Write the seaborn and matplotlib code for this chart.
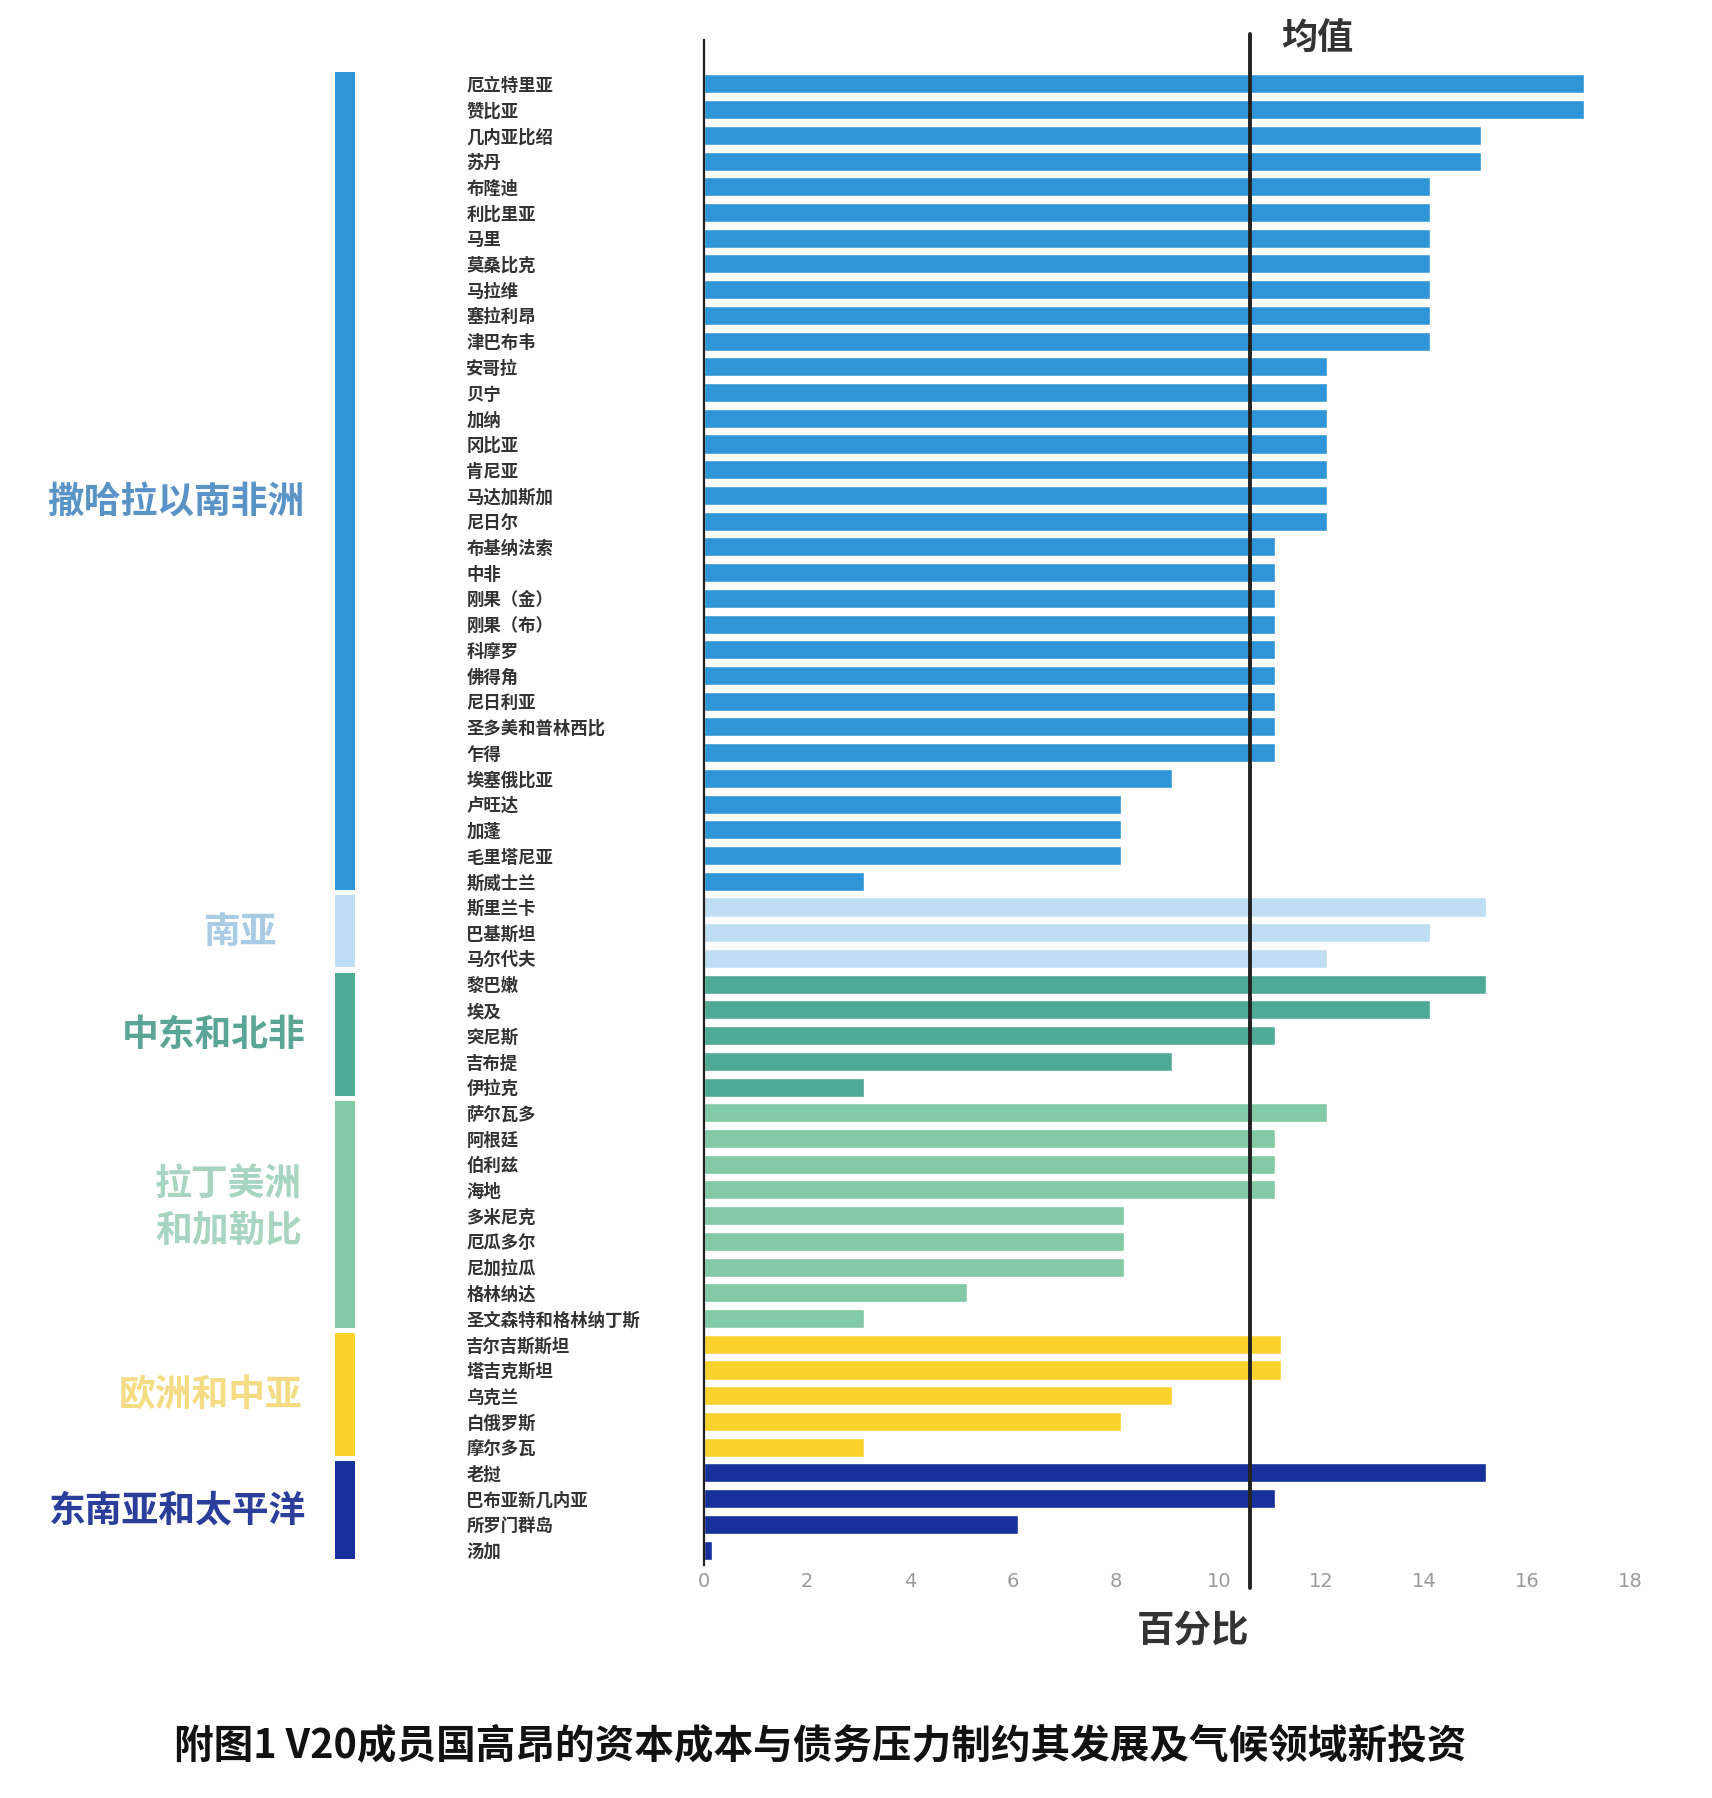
import matplotlib
matplotlib.use("Agg")
import matplotlib.pyplot as plt
import matplotlib.transforms as mtransforms
import pandas as pd
import seaborn as sns

sns.set_style("white")
plt.rcParams['font.family'] = ['Noto Sans CJK SC', 'DejaVu Sans']

# data
countries = [
    "厄立特里亚", "赞比亚", "几内亚比绍", "苏丹", "布隆迪", "利比里亚", "马里", "莫桑比克",
    "马拉维", "塞拉利昂", "津巴布韦", "安哥拉", "贝宁", "加纳", "冈比亚", "肯尼亚",
    "马达加斯加", "尼日尔", "布基纳法索", "中非", "刚果（金）", "刚果（布）", "科摩罗", "佛得角",
    "尼日利亚", "圣多美和普林西比", "乍得", "埃塞俄比亚", "卢旺达", "加蓬", "毛里塔尼亚", "斯威士兰",
    "斯里兰卡", "巴基斯坦", "马尔代夫",
    "黎巴嫩", "埃及", "突尼斯", "吉布提", "伊拉克",
    "萨尔瓦多", "阿根廷", "伯利兹", "海地", "多米尼克", "厄瓜多尔", "尼加拉瓜", "格林纳达",
    "圣文森特和格林纳丁斯",
    "吉尔吉斯斯坦", "塔吉克斯坦", "乌克兰", "白俄罗斯", "摩尔多瓦",
    "老挝", "巴布亚新几内亚", "所罗门群岛", "汤加",
]
values = [
    17.1, 17.1, 15.1, 15.1, 14.1, 14.1, 14.1, 14.1,
    14.1, 14.1, 14.1, 12.1, 12.1, 12.1, 12.1, 12.1,
    12.1, 12.1, 11.1, 11.1, 11.1, 11.1, 11.1, 11.1,
    11.1, 11.1, 11.1, 9.1, 8.1, 8.1, 8.1, 3.1,
    15.2, 14.1, 12.1,
    15.2, 14.1, 11.1, 9.1, 3.1,
    12.1, 11.1, 11.1, 11.1, 8.15, 8.15, 8.15, 5.1,
    3.1,
    11.2, 11.2, 9.1, 8.1, 3.1,
    15.2, 11.1, 6.1, 0.15,
]
region_names = ["撒哈拉以南非洲", "南亚", "中东和北非", "拉丁美洲\n和加勒比", "欧洲和中亚", "东南亚和太平洋"]
region_sizes = [32, 3, 5, 9, 5, 4]
bar_colors = ["#2E96D6", "#BFDEF3", "#4FAA95", "#82C9A5", "#F9D22E", "#17309C"]
label_colors = ["#5A93C6", "#A9CBE3", "#5AA596", "#A8D5BF", "#F4DC84", "#2A3E9A"]
mean_value = 10.6
xticks = [0, 2, 4, 6, 8, 10, 12, 14, 16, 18]

regions = []
for name, n in zip(region_names, region_sizes):
    regions += [name] * n
df = pd.DataFrame({"country": countries, "value": values, "region": regions})
palette = dict(zip(region_names, bar_colors))

fig = plt.figure(figsize=(17.12, 17.98), dpi=100)
ax = fig.add_axes([0.4112, 0.1296, 0.5713, 0.8482])

sns.barplot(data=df, x="value", y="country", hue="region", palette=palette,
            dodge=False, width=0.74, legend=False, orient="h", ax=ax, saturation=1)

n = len(countries)
ax.set_xlim(0, 19)
ax.set_ylim(n - 1 + 0.58, -1.71)

for s in ["top", "right", "bottom"]:
    ax.spines[s].set_visible(False)
ax.spines["left"].set_color("#222222")
ax.spines["left"].set_linewidth(1.6)

ax.set_xticks(xticks)
ax.set_xticklabels([str(t) for t in xticks], color="#9a9a9a", fontsize=14, family="DejaVu Sans")
ax.tick_params(axis="x", length=0, pad=5)

ax.set_yticks(range(n))
ax.set_yticklabels(countries, ha="left", fontsize=12.5, color="#333333", fontweight="bold")
ax.tick_params(axis="y", length=4, color="#cccccc", pad=167)

ax.set_ylabel("")
ax.set_xlabel("百分比", fontsize=27, fontweight="bold", color="#333333", labelpad=14)

# mean line
ax.axvline(mean_value, ymin=-0.015, ymax=1.004, color="#222222", lw=2.8, clip_on=False)
ax.text(mean_value + 0.6, 1.0, "均值", transform=mtransforms.blended_transform_factory(ax.transData, ax.transAxes),
        fontsize=26, fontweight="bold", color="#333333", va="center", ha="left")

# region brackets on the left
trans = mtransforms.blended_transform_factory(ax.transAxes, ax.transData)
label_x = [-0.540, -0.474, -0.501, -0.486, -0.505, -0.538]
label_dy = [0.8, 0, 0, -0.3, 0, 0]
start = 0
for i, size in enumerate(region_sizes):
    top = start - 0.45
    bottom = start + size - 1 + 0.35
    rect = plt.Rectangle((-0.3773, top), 0.0204, bottom - top, transform=trans,
                         facecolor=bar_colors[i], edgecolor="none", clip_on=False)
    ax.add_patch(rect)
    ax.text(label_x[i], start + (size - 1) / 2 + label_dy[i], region_names[i], transform=trans,
            ha="center", va="center", fontsize=26.5, fontweight="bold",
            color=label_colors[i], linespacing=1.35)
    start += size

fig.text(0.479, 0.029, "附图1 V20成员国高昂的资本成本与债务压力制约其发展及气候领域新投资",
         ha="center", va="center", fontsize=28.5, fontweight="bold", color="#111111")

fig.savefig("out.png", dpi=100, facecolor="white")
